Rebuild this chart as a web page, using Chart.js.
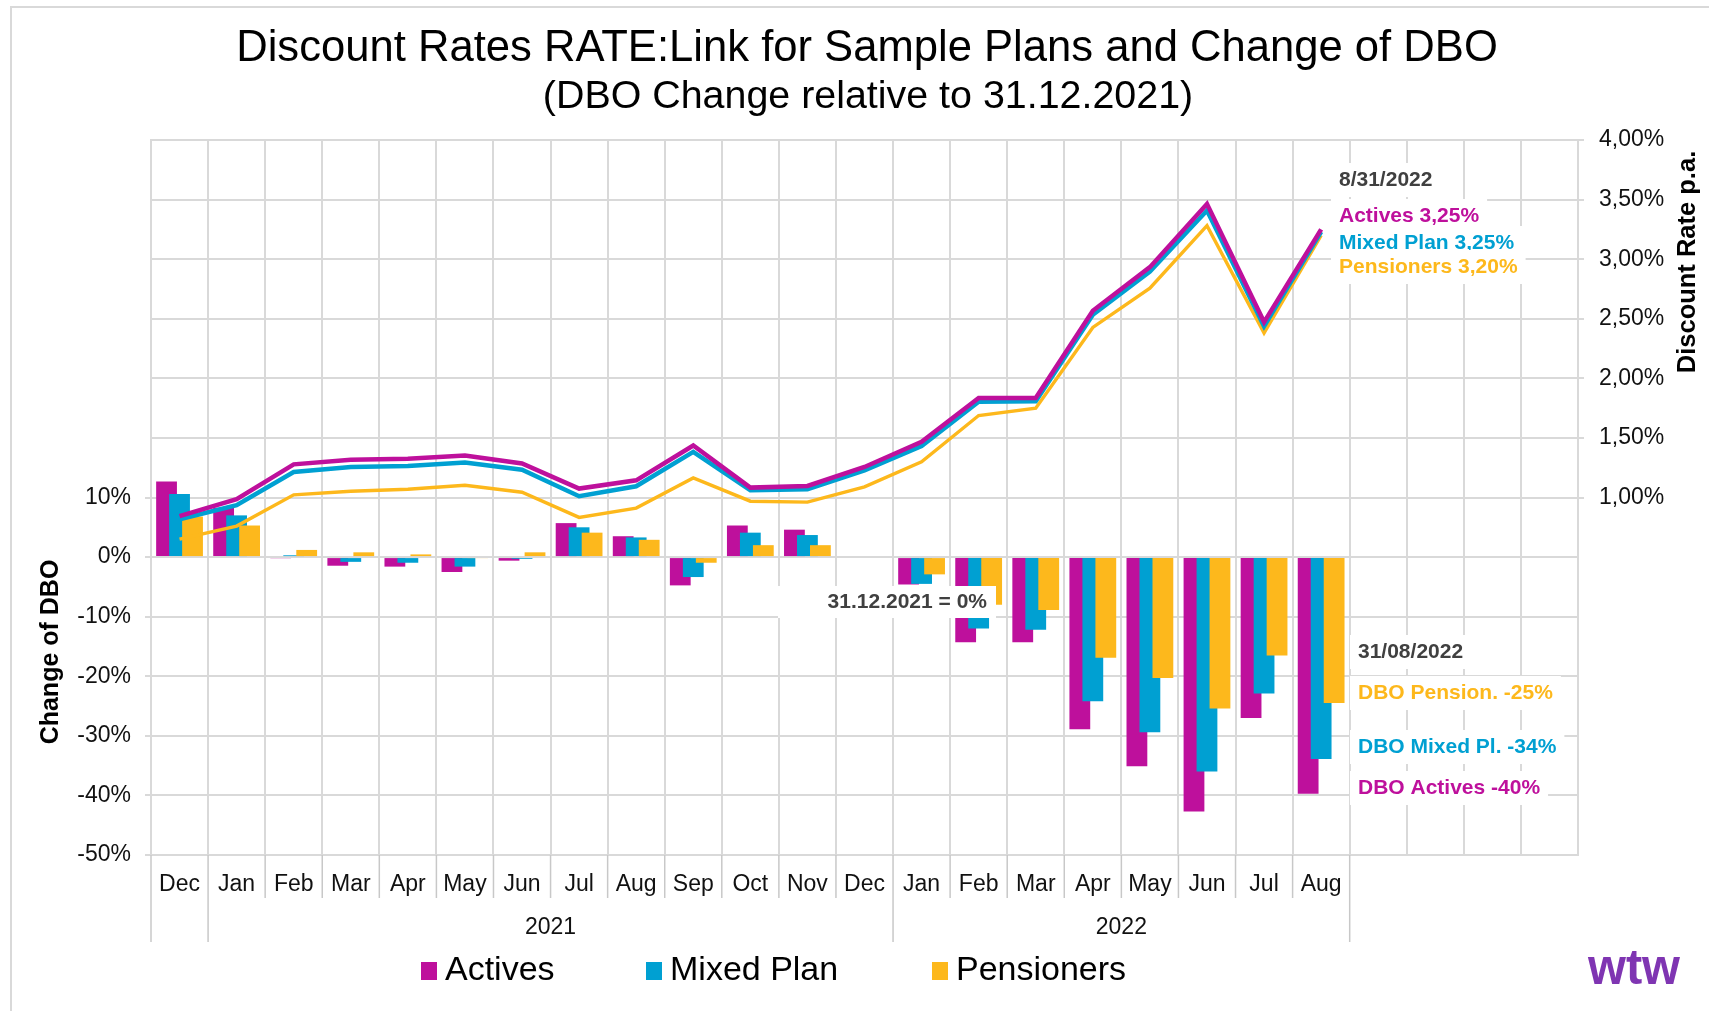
<!DOCTYPE html>
<html>
<head>
<meta charset="utf-8">
<script src="https://cdn.jsdelivr.net/npm/chart.js@4.4.1/dist/chart.umd.min.js"></script>
<style>
  html, body { margin: 0; padding: 0; background: #fff; }
  canvas { display: block; }
</style>
</head>
<body>
<canvas id="chart" width="1709" height="1011"></canvas>
<script>
// month categories (Dec 2020 .. Aug 2022), 4 empty slots on the right
var months = ['Dec', 'Jan', 'Feb', 'Mar', 'Apr', 'May', 'Jun', 'Jul', 'Aug', 'Sep', 'Oct', 'Nov',
              'Dec', 'Jan', 'Feb', 'Mar', 'Apr', 'May', 'Jun', 'Jul', 'Aug'];
var emptySlots = ['', '', '', ''];
var yearLabels = ['2021', '2022'];
var yearFirst = [1, 13];
var yearLast = [12, 20];

// change of DBO in % (bars, left axis)
var dboActives = [12.7, 8.3, -0.2, -1.45, -1.6, -2.5, -0.6, 5.7, 3.5, -4.75, 5.3, 4.6, 0,
                  -4.6, -14.3, -14.3, -28.9, -35.1, -42.7, -27.0, -39.7];
var dboMixed = [10.6, 7.0, 0.3, -0.8, -0.95, -1.6, -0.3, 5.0, 3.3, -3.35, 4.1, 3.7, 0,
                -4.5, -12.0, -12.2, -24.2, -29.4, -36.0, -22.9, -33.9];
var dboPensioners = [6.8, 5.3, 1.2, 0.8, 0.45, -0.15, 0.8, 4.1, 2.9, -0.95, 2.0, 2.0, 0,
                     -2.9, -8.0, -8.9, -16.9, -20.3, -25.4, -16.5, -24.5];

// discount rates in % p.a. (lines, right axis)
var rateActives = [0.844, 0.986, 1.278, 1.317, 1.325, 1.353, 1.286, 1.075, 1.144, 1.436, 1.083, 1.097, 1.256,
                   1.467, 1.836, 1.836, 2.567, 2.933, 3.464, 2.472, 3.25];
var rateMixed = [0.817, 0.936, 1.214, 1.256, 1.264, 1.294, 1.233, 1.011, 1.094, 1.383, 1.061, 1.069, 1.228,
                 1.432, 1.803, 1.808, 2.534, 2.896, 3.408, 2.436, 3.23];
var ratePensioners = [0.65, 0.76, 1.022, 1.053, 1.069, 1.103, 1.044, 0.833, 0.911, 1.164, 0.969, 0.961, 1.089,
                      1.30, 1.688, 1.749, 2.427, 2.756, 3.281, 2.38, 3.20];

var MAGENTA = '#be109c';
var BLUE = '#00a0d2';
var ORANGE = '#fdb81c';
var DARK = '#404040';
var GRID = '#d9d9d9';
var FONT = '"Liberation Sans", Arial, sans-serif';

Chart.defaults.font.family = FONT;
Chart.defaults.color = '#111';

function drawText(c, txt, x, y, font, color, align) {
  c.font = font;
  c.fillStyle = color;
  c.textAlign = align || 'left';
  c.textBaseline = 'middle';
  c.fillText(txt, x, y);
}

// text label with white box behind it
function boxedText(c, txt, x, y, color) {
  c.font = 'bold 21px ' + FONT;
  var w = c.measureText(txt).width;
  c.fillStyle = '#fff';
  c.fillRect(x - 8, y - 17, w + 16, 34);
  drawText(c, txt, x, y, 'bold 21px ' + FONT, color);
}

// bars are drawn by hand so that the right bar of a group overlaps the left one
var barOrder = {
  id: 'barOrder',
  beforeDatasetsDraw: function(chart) {
    var c = chart.ctx, a = chart.chartArea;
    c.save();
    c.beginPath();
    c.rect(a.left, a.top, a.right - a.left, a.bottom - a.top);
    c.clip();
    chart.data.datasets.forEach(function(ds, i) {
      var meta = chart.getDatasetMeta(i);
      if (meta.type === 'bar') meta.controller.draw();
    });
    c.restore();
  },
  beforeDatasetDraw: function(chart, args) {
    if (args.meta.type === 'bar') return false;
  }
};

var decor = {
  id: 'decor',
  beforeDraw: function(chart) {
    var c = chart.ctx;
    c.save();
    c.fillStyle = '#fff';
    c.fillRect(0, 0, chart.width, chart.height);
    c.strokeStyle = GRID;
    c.lineWidth = 2;
    c.strokeRect(11, 7, chart.width + 20, chart.height + 20);
    c.restore();
  },
  afterDraw: function(chart) {
    var c = chart.ctx, x = chart.scales.x, area = chart.chartArea;
    var half = (x.getPixelForValue(1) - x.getPixelForValue(0)) / 2;
    c.save();

    // category tick marks and year separators below the axis
    c.strokeStyle = '#c8c8c8';
    c.lineWidth = 1.5;
    for (var i = 0; i <= months.length; i++) {
      var px = x.getPixelForValue(0) - half + i * 2 * half;
      var isLong = i === 0 || i === months.length || yearFirst.indexOf(i) >= 0;
      c.beginPath();
      c.moveTo(px, area.bottom);
      c.lineTo(px, area.bottom + (isLong ? 87 : 43));
      c.stroke();
    }
    for (var j = 0; j < yearLabels.length; j++) {
      var cx = (x.getPixelForValue(yearFirst[j]) + x.getPixelForValue(yearLast[j])) / 2;
      drawText(c, yearLabels[j], cx, 928, '23px ' + FONT, '#111', 'center');
    }

    // titles
    drawText(c, 'Discount Rates RATE:Link for Sample Plans and Change of DBO', 867, 49, '43.6px ' + FONT, '#000', 'center');
    drawText(c, '(DBO Change relative to 31.12.2021)', 868, 97, '39.4px ' + FONT, '#000', 'center');

    // axis titles
    c.save();
    c.translate(51, 652);
    c.rotate(-Math.PI / 2);
    drawText(c, 'Change of DBO', 0, 0, 'bold 25px ' + FONT, '#000', 'center');
    c.restore();
    c.save();
    c.translate(1688, 262);
    c.rotate(-Math.PI / 2);
    drawText(c, 'Discount Rate p.a.', 0, 0, 'bold 25.5px ' + FONT, '#000', 'center');
    c.restore();

    // annotations
    boxedText(c, '8/31/2022', 1339, 180, DARK);
    boxedText(c, 'Actives 3,25%', 1339, 216, MAGENTA);
    boxedText(c, 'Mixed Plan 3,25%', 1339, 243, BLUE);
    boxedText(c, 'Pensioners 3,20%', 1339, 267, ORANGE);

    boxedText(c, '31/08/2022', 1358, 652, DARK);
    boxedText(c, 'DBO Pension. -25%', 1358, 693, ORANGE);
    boxedText(c, 'DBO Mixed Pl. -34%', 1358, 747, BLUE);
    boxedText(c, 'DBO Actives -40%', 1358, 788, MAGENTA);

    c.fillStyle = '#fff';
    c.fillRect(778, 586, 218, 32);
    drawText(c, '31.12.2021 = 0%', 987, 602, 'bold 21px ' + FONT, DARK, 'right');

    // legend
    var legend = [['Actives', MAGENTA, 421], ['Mixed Plan', BLUE, 646], ['Pensioners', ORANGE, 932]];
    legend.forEach(function(it) {
      c.fillStyle = it[1];
      c.fillRect(it[2], 962, 16, 18);
      drawText(c, it[0], it[2] + 24, 971, '34px ' + FONT, '#000');
    });

    // logo
    c.font = 'bold 50px ' + FONT;
    var lw = c.measureText('wtw').width;
    c.save();
    c.translate(1588, 984);
    c.scale(92 / lw, 1);
    c.fillStyle = '#7f35b2';
    c.textAlign = 'left';
    c.textBaseline = 'alphabetic';
    c.fillText('wtw', 0, 0);
    c.restore();

    c.restore();
  }
};

function barSet(label, data, color) {
  return {
    type: 'bar', label: label, data: data, yAxisID: 'y',
    backgroundColor: color, borderWidth: 0,
    categoryPercentage: 0.683, barPercentage: 1.6, order: 5
  };
}
function lineSet(label, data, color, width, order) {
  return {
    type: 'line', label: label, data: data, yAxisID: 'y1',
    borderColor: color, borderWidth: width, pointRadius: 0, tension: 0,
    fill: false, borderJoinStyle: 'miter', order: order
  };
}

new Chart(document.getElementById('chart'), {
  data: {
    labels: months.concat(emptySlots),
    datasets: [
      barSet('Actives', dboActives, MAGENTA),
      barSet('Mixed Plan', dboMixed, BLUE),
      barSet('Pensioners', dboPensioners, ORANGE),
      lineSet('Pensioners rate', ratePensioners, ORANGE, 3.4, 3),
      lineSet('Mixed Plan rate', rateMixed, BLUE, 4.5, 2),
      lineSet('Actives rate', rateActives, MAGENTA, 4.5, 1)
    ]
  },
  options: {
    responsive: false,
    animation: false,
    devicePixelRatio: 1,
    layout: { padding: { top: 140, left: 0, right: 0, bottom: 0 } },
    plugins: { legend: { display: false }, tooltip: { enabled: false } },
    scales: {
      x: {
        offset: true,
        grid: { color: GRID, lineWidth: 2, offset: true, drawTicks: false },
        border: { color: GRID, width: 2 },
        ticks: { autoSkip: false, maxRotation: 0, padding: 16, font: { size: 23 }, color: '#111' },
        afterFit: function(s) { s.height = 156; }
      },
      y: {
        position: 'left',
        min: -50, max: 70,
        grid: {
          color: GRID, lineWidth: 2, tickLength: 6,
          tickColor: function(ctx) { return ctx.tick && ctx.tick.value <= 10 ? GRID : 'rgba(0,0,0,0)'; }
        },
        border: { color: GRID, width: 2 },
        ticks: {
          stepSize: 10, padding: 14, font: { size: 23 }, color: '#111',
          callback: function(v) { return v <= 10 ? v + '%' : ''; }
        },
        afterFit: function(s) { s.width = 151; }
      },
      y1: {
        position: 'right',
        min: -2, max: 4,
        grid: {
          drawOnChartArea: false, tickLength: 6, lineWidth: 2,
          tickColor: function(ctx) { return ctx.tick && ctx.tick.value >= 1 ? GRID : 'rgba(0,0,0,0)'; }
        },
        border: { color: GRID, width: 2 },
        ticks: {
          stepSize: 0.5, padding: 15, font: { size: 23 }, color: '#111',
          callback: function(v) { return v >= 1 ? v.toFixed(2).replace('.', ',') + '%' : ''; }
        },
        afterFit: function(s) { s.width = 131; }
      }
    }
  },
  plugins: [barOrder, decor]
});
</script>
</body>
</html>
